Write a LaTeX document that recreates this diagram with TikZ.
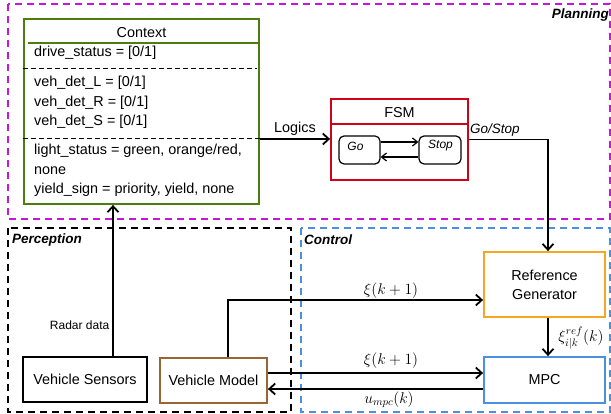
\documentclass[tikz,border=0pt]{standalone}
\usepackage{fix-cm}
\usepackage{fontspec}
\setmainfont{Liberation Sans}
\usetikzlibrary{arrows.meta}
\definecolor{plan}{RGB}{200,20,220}
\definecolor{ctxg}{RGB}{77,125,15}
\definecolor{fsmr}{RGB}{208,2,27}
\definecolor{refo}{RGB}{245,166,35}
\definecolor{mpcb}{RGB}{74,144,226}
\definecolor{vmb}{RGB}{153,102,51}
\newcommand{\fsz}{\fontsize{14.4}{19}\selectfont}
\newcommand{\fsm}{\fontsize{15.6}{18}\selectfont}
\begin{document}
\begin{tikzpicture}[x=1pt,y=-1pt,
  blk/.style={draw,line width=1.8pt,inner sep=0pt,font=\fsz,align=center},
  region/.style={draw,line width=1.8pt,dash pattern=on 7pt off 5pt},
  arr/.style={line width=1.8pt,-{Straight Barb[length=6pt,width=11pt]}},
  thinarr/.style={line width=1.2pt,-{Straight Barb[length=5pt,width=8pt]}},
  txt/.style={font=\fsz,inner sep=0pt,anchor=west},
  rlabel/.style={font=\fontsize{13.5}{16}\selectfont\bfseries\itshape,inner sep=0pt},
  mlabel/.style={font=\fsm,inner sep=0pt}]
\useasboundingbox (0,0) rectangle (611,414);
% regions
\draw[region,plan] (8,4) rectangle (610,219);
\draw[region,black] (8,228) rectangle (291,412);
\draw[region,mpcb] (301,228) rectangle (610,412);
\node[rlabel,anchor=east] (lplan) at (609,15) {Planning};
\node[rlabel,anchor=west] (lperc) at (12,240) {Perception};
\node[rlabel,anchor=west] (lctrl) at (304,240) {Control};
% context
\node[blk,draw=ctxg,minimum width=235pt,minimum height=185pt] (ctx) at (141.5,111.5) {};
\node[font=\fsz,inner sep=0pt] (ctxt) at (141.5,33) {Context};
\draw[ctxg,line width=1.8pt] (28,43) -- (ctx.east |- 0,43);
\node[txt] (t1) at (34,53) {drive\_status = [0/1]};
\draw[dashed,line width=0.8pt,dash pattern=on 5pt off 3pt] (ctx.west |- 0,68) -- (257,68);
\node[txt] (t2) at (34,83) {veh\_det\_L = [0/1]};
\node[txt] (t3) at (34,102.5) {veh\_det\_R = [0/1]};
\node[txt] (t4) at (34,122) {veh\_det\_S = [0/1]};
\draw[line width=0.8pt,dash pattern=on 5pt off 3pt] (ctx.west |- 0,138) -- (ctx.east |- 0,138);
\node[txt] (t5) at (34,151) {light\_status = green, orange/red,};
\node[txt] (t6) at (34,170.5) {none};
\node[txt] (t7) at (34,190) {yield\_sign = priority, yield, none};
% FSM
\node[blk,draw=fsmr,minimum width=137pt,minimum height=81pt] (fsm) at (399.5,139.5) {};
\node[font=\fsz,inner sep=0pt] (fsmt) at (399.5,113) {FSM};
\draw[fsmr,line width=1.8pt] (fsm.west |- 0,124) -- (fsm.east |- 0,124);
\node[draw,line width=1.2pt,rounded corners=5pt,minimum width=41pt,minimum height=28pt,inner sep=0pt] (go) at (359.5,150) {};
\node[draw,line width=1.2pt,rounded corners=5pt,minimum width=42pt,minimum height=28pt,inner sep=0pt] (stop) at (440,150) {};
\node[font=\fontsize{12}{14}\selectfont\itshape,inner sep=0pt] (gol) at (355.5,146) {Go};
\node[font=\fontsize{12}{14}\selectfont\itshape,inner sep=0pt] (stopl) at (440.5,146) {Stop};
\draw[thinarr] ([yshift=8pt]go.east) -- ([yshift=8pt]stop.west);
\draw[thinarr] ([yshift=-7pt]stop.west) -- ([yshift=-7pt]go.east);
% control blocks
\node[blk,draw=refo,minimum width=121pt,minimum height=65pt] (ref) at (544.5,284.5) {Reference\\Generator};
\node[blk,draw=mpcb,minimum width=121pt,minimum height=46pt] (mpc) at (544.5,380) {MPC};
% perception blocks
\node[blk,draw=black,minimum width=124pt,minimum height=45pt] (vs) at (85,379.5) {Vehicle Sensors};
\node[blk,draw=vmb,minimum width=107pt,minimum height=45pt] (vm) at (213.5,380.5) {Vehicle Model};
% connectors
\draw[arr] (ctx.east |- 0,139) -- (fsm.west |- 0,139) node[pos=0.5,above=3pt,font=\fsz,inner sep=0pt] (lg) {Logics};
\draw[arr] (fsm.east) -| ([xshift=3.5pt]ref.north);
\node[font=\fontsize{13.5}{16}\selectfont\itshape,inner sep=0pt,anchor=west] (gs) at (470,130) {Go/Stop};
\draw[arr] ([xshift=3.5pt]ref.south) -- ([xshift=3.5pt]mpc.north);
\node[mlabel] (xr) at (581,338) {$\xi^{ref}_{i|k}(k)$};
\draw[arr] ([xshift=28pt]vs.north) -- ([xshift=28pt]vs.north |- ctx.south);
\node[font=\fontsize{12}{14}\selectfont,inner sep=0pt,anchor=east] (rd) at (109.5,325) {Radar data};
\draw[arr] ([xshift=14.5pt]vm.north) |- ([yshift=-15.5pt]ref.west);
\node[mlabel] (x1) at (391,291) {$\xi(k+1)$};
\draw[arr] ([yshift=7.5pt]vm.east) -- ([yshift=7.5pt]vm.east -| mpc.west);
\node[mlabel] (x2) at (391,361) {$\xi(k+1)$};
\draw[arr] ([yshift=-9pt]mpc.west) -- ([yshift=-9pt]mpc.west -| vm.east);
\node[mlabel] (u) at (389,400) {$u_{mpc}(k)$};
\end{tikzpicture}
\end{document}
